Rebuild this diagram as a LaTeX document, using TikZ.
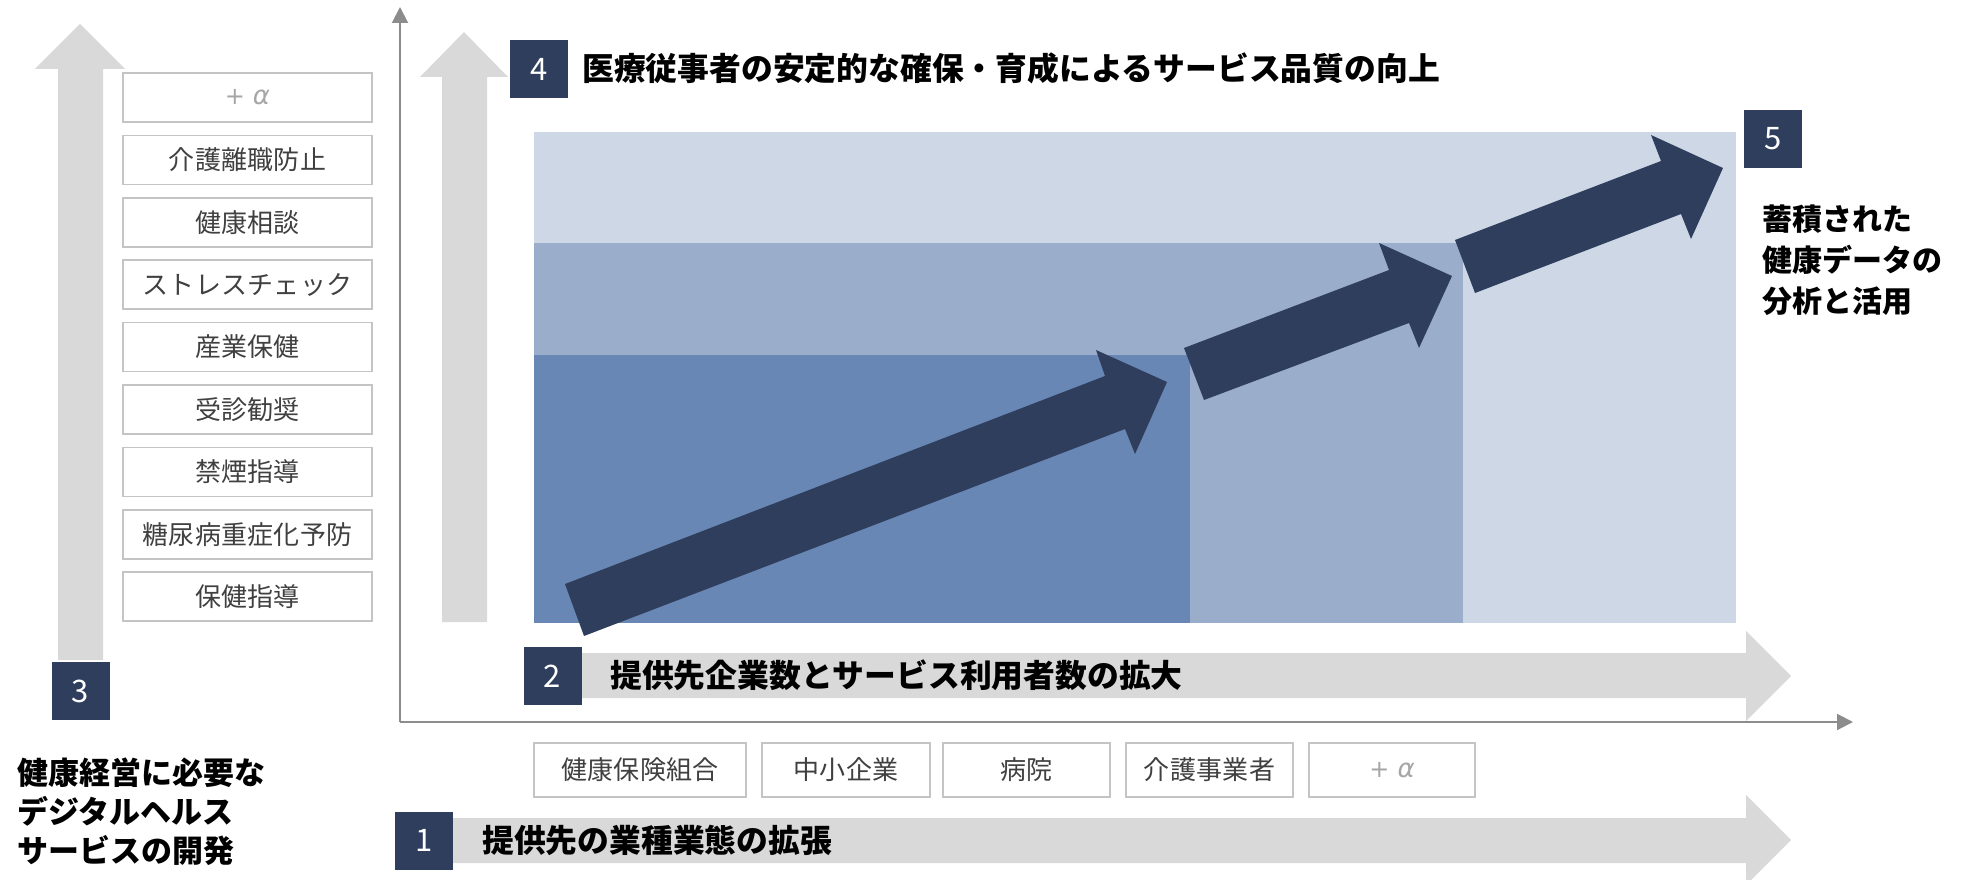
\documentclass[tikz,border=0pt]{standalone}
\usepackage{fontspec}
\setmainfont{Noto Sans CJK JP}
\newfontfamily\boxfont[LetterSpace=1]{Noto Sans CJK JP}
\newfontfamily\grkfont{DejaVu Sans}
\usetikzlibrary{arrows.meta}
\definecolor{navy}{HTML}{2E3E5C}
\definecolor{barGray}{HTML}{D9D9D9}
\definecolor{axisGray}{HTML}{8C8C8C}
\definecolor{boxGray}{HTML}{C4C4C4}
\definecolor{itemText}{HTML}{404040}
\definecolor{alphaGray}{HTML}{A6A6A6}
\definecolor{bandLight}{HTML}{CDD7E5}
\definecolor{bandMid}{HTML}{9AAECB}
\definecolor{bandDark}{HTML}{6887B4}
\newcommand{\plusalpha}{{\grkfont\fontsize{24}{30}\selectfont +}\hspace{8pt}{\grkfont\itshape α}}
\begin{document}
\begin{tikzpicture}[x=1pt,y=-1pt,
  graybar/.style={fill=barGray,draw=none},
  numbox/.style={fill=navy,text=white,minimum width=58pt,minimum height=58pt,inner sep=0pt,font=\fontsize{31}{31}\selectfont},
  itembox/.style={draw=boxGray,line width=1.5pt,fill=white,text=itemText,inner sep=0pt,font=\boxfont\fontsize{26}{30}\selectfont},
  plusbox/.style={itembox,text=alphaGray,font=\fontsize{26}{30}\selectfont},
  titletext/.style={anchor=west,inner sep=0pt,text=black,font=\bfseries\fontsize{31.8}{40}\selectfont},
  sidetext/.style={anchor=north west,inner sep=0pt,align=left,text=black},
  bigarrow/.style={fill=navy,draw=none},
  axisline/.style={draw=axisGray,line width=2pt,-{Triangle[width=16pt,length=16pt]}}
]
\useasboundingbox (0,0) rectangle (1962,880);
\clip (0,0) rectangle (1962,880);

% bands
\fill[bandLight] (534,132) rectangle (1736,623);
\fill[bandMid] (534,243) rectangle (1463,623);
\fill[bandDark] (534,355) rectangle (1190,623);

% gray vertical arrows
\fill[graybar] (58,660) -- (58,69) -- (35,69) -- (80,24) -- (125,69) -- (103,69) -- (103,660) -- cycle;
\fill[graybar] (442,622) -- (442,77) -- (420,77) -- (464,32) -- (508,77) -- (487,77) -- (487,622) -- cycle;

% gray horizontal arrows
\fill[graybar] (582,653) -- (1746,653) -- (1746,631) -- (1791,676) -- (1746,721) -- (1746,698) -- (582,698) -- cycle;
\fill[graybar] (453,818) -- (1746,818) -- (1746,795) -- (1791,840) -- (1746,885) -- (1746,863) -- (453,863) -- cycle;

% axes
\coordinate (origin) at (400,722);
\coordinate (ytip) at (400,7);
\coordinate (xtip) at (1853,722);
\draw[axisline] (origin) -- (ytip);
\draw[axisline] (origin) -- (xtip);

% dark growth arrows
\fill[bigarrow] (584,636) -- (565,584) -- (1105,376) -- (1096,350) -- (1167,382) -- (1135,454) -- (1125,429) -- cycle;
\fill[bigarrow] (1204,400) -- (1184,348) -- (1389,270) -- (1379,243) -- (1452,276) -- (1419,348) -- (1409,323) -- cycle;
\fill[bigarrow] (1475,293) -- (1455,240) -- (1661,161) -- (1651,135) -- (1723,168) -- (1691,239) -- (1681,214) -- cycle;

% left item column
\node[plusbox,minimum width=249pt,minimum height=49pt] (itemplus) at (247.5,97.5) {\plusalpha};
\foreach \t [count=\i from 1] in {介護離職防止,健康相談,ストレスチェック,産業保健,受診勧奨,禁煙指導,糖尿病重症化予防,保健指導}{
  \node[itembox,minimum width=249pt,minimum height=49pt] (item\i) at (247.5,{97.5+62.4*\i}) {\t};
}

% bottom item row
\node[itembox,minimum width=212pt,minimum height=54pt] (kenpo) at (640,770) {健康保険組合};
\node[itembox,minimum width=168pt,minimum height=54pt] (chusho) at (846,770) {中小企業};
\node[itembox,minimum width=167pt,minimum height=54pt] (byoin) at (1026.5,770) {病院};
\node[itembox,minimum width=167pt,minimum height=54pt] (kaigo) at (1209.5,770) {介護事業者};
\node[plusbox,minimum width=166pt,minimum height=54pt] (rowplus) at (1392,770) {\plusalpha};

% number boxes
\node[numbox] (n1) at (424,840.5) {1};
\node[numbox] (n2) at (552.5,676) {2};
\node[numbox] (n3) at (80.5,691) {3};
\node[numbox] (n4) at (539,69) {4};
\node[numbox] (n5) at (1773,139) {5};

% titles
\node[titletext] (t4) at (582,68) {医療従事者の安定的な確保・育成によるサービス品質の向上};
\node[titletext] (t2) at (610,675) {提供先企業数とサービス利用者数の拡大};
\node[titletext] (t1) at (482,840) {提供先の業種業態の拡張};
\node[sidetext,font=\bfseries\fontsize{31}{39}\selectfont] (t3) at (17,758) {健康経営に必要な\\デジタルヘルス\\サービスの開発};
\node[sidetext,font=\bfseries\fontsize{30}{41}\selectfont] (t5) at (1762,205) {蓄積された\\健康データの\\分析と活用};
\end{tikzpicture}
\end{document}
